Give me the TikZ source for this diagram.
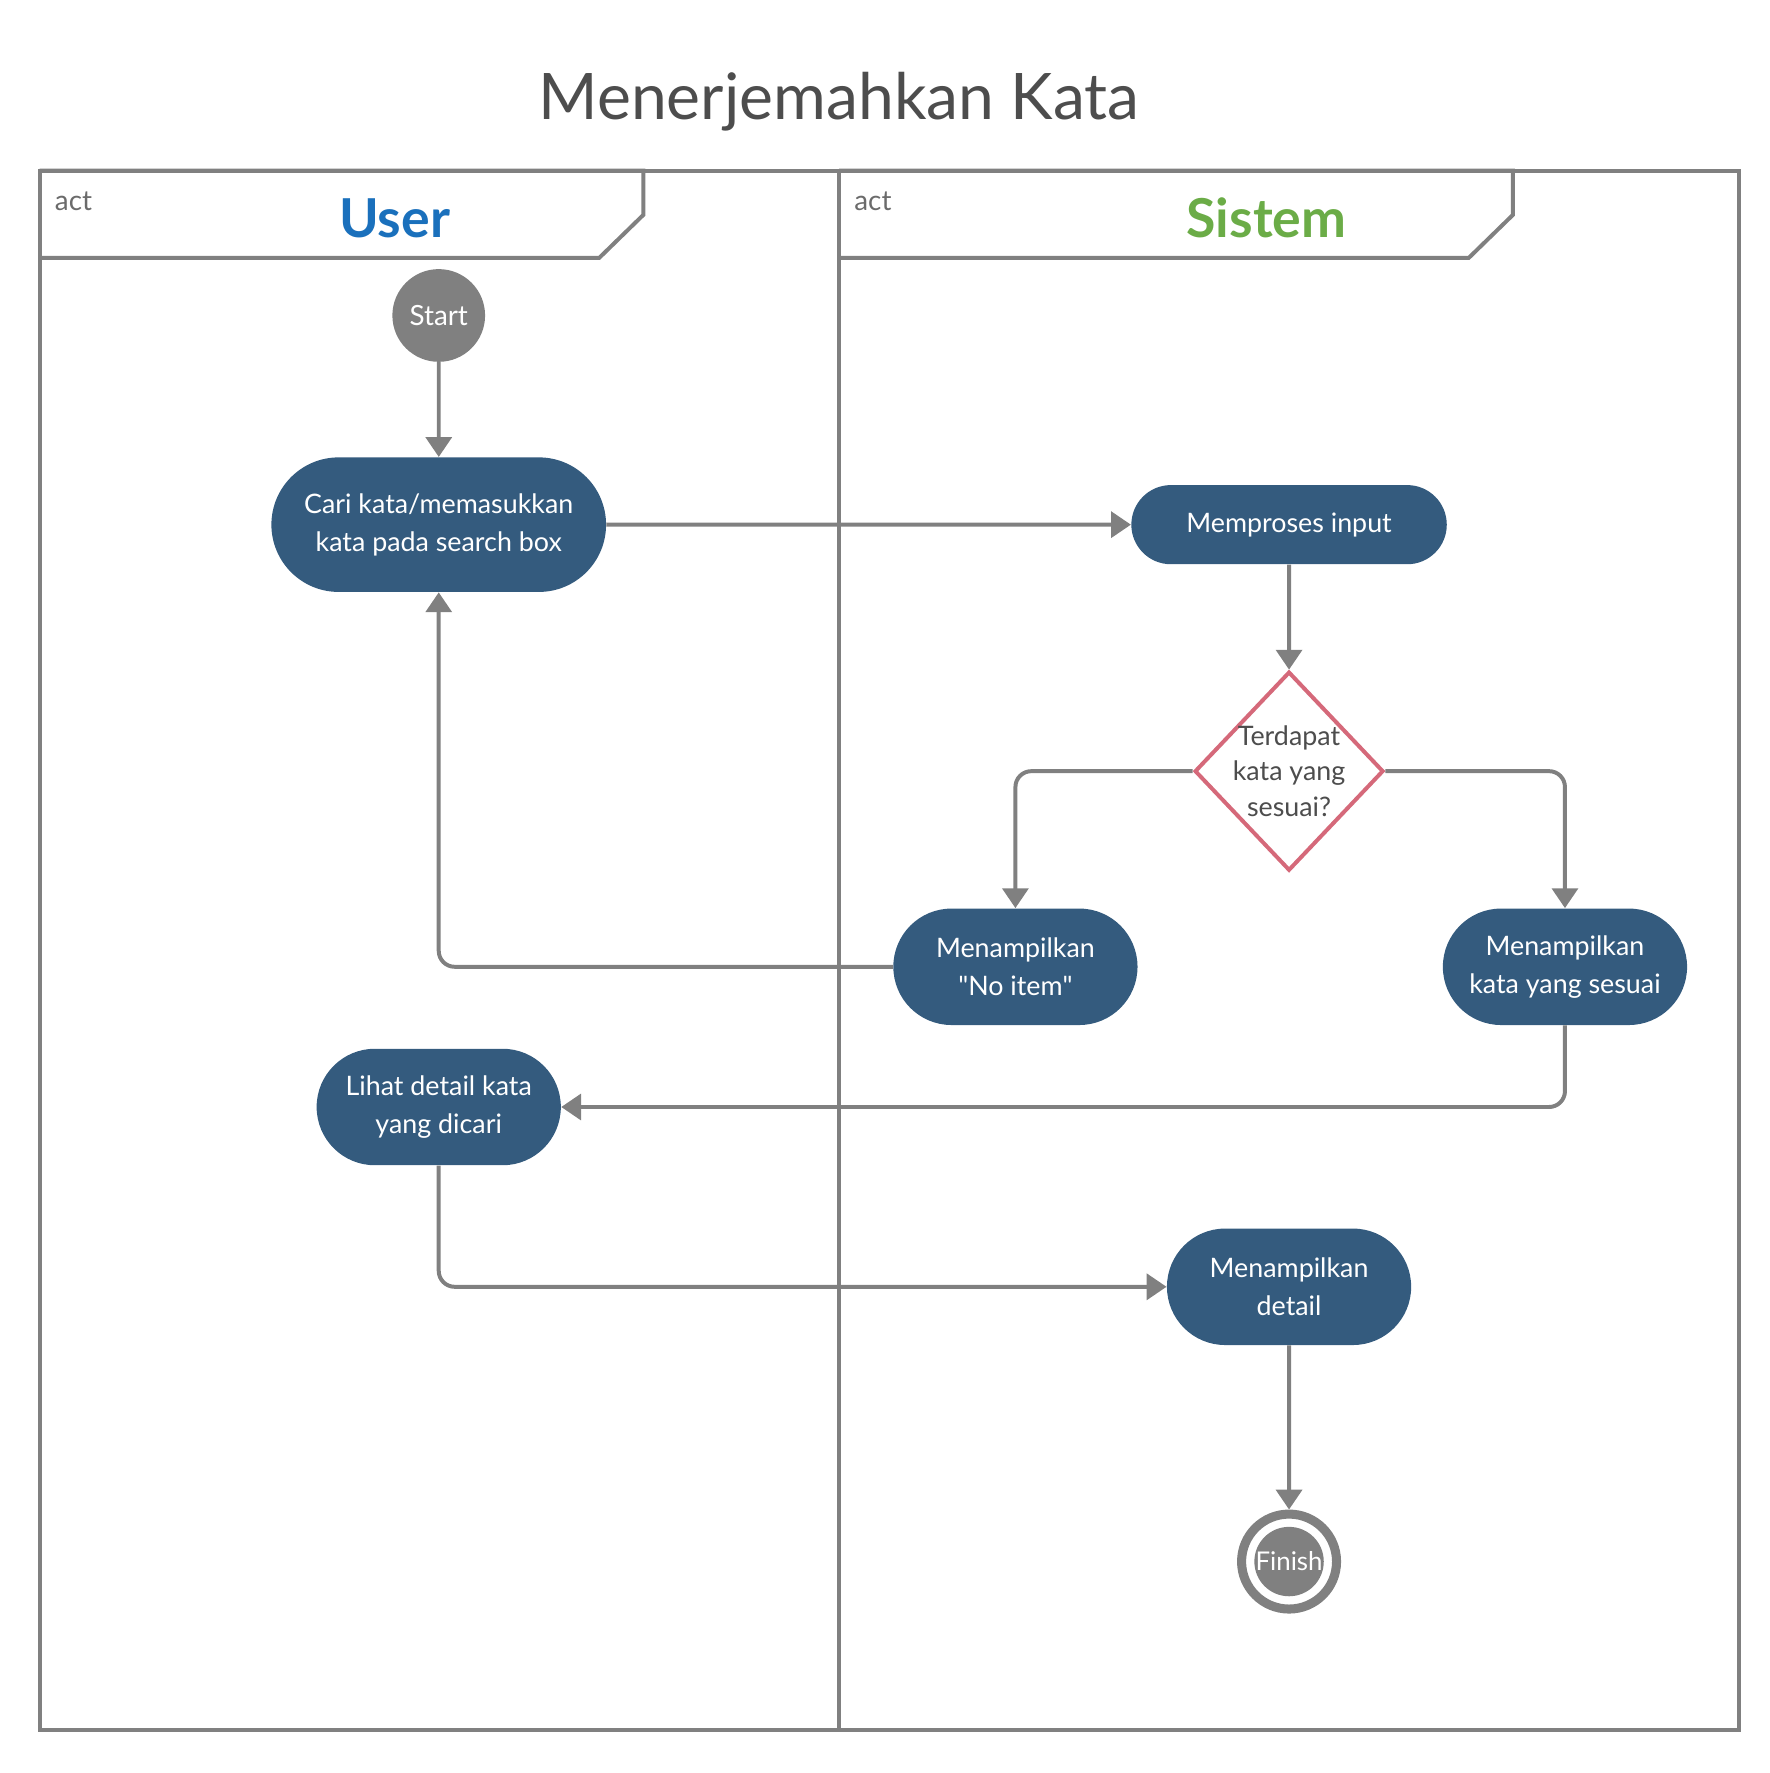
\documentclass[tikz,border=0pt]{standalone}
\usepackage{fontspec}
\setmainfont{Lato}
\newfontfamily\plainlato{Lato}
\usetikzlibrary{arrows.meta, positioning, shapes.geometric, shapes.misc}

\definecolor{LineGrey}{HTML}{808080}
\definecolor{ActBlue}{HTML}{345B7E}
\definecolor{DecRed}{HTML}{D5697A}
\definecolor{UserBlue}{HTML}{1A70BC}
\definecolor{SysGreen}{HTML}{6BAC47}
\definecolor{TextGrey}{HTML}{4D4D4D}
\definecolor{ActGrey}{HTML}{6B6B6B}

\begin{document}
\begin{tikzpicture}[
  lane/.style={draw=LineGrey, line width=2pt},
  action/.style={rounded rectangle, fill=ActBlue, text=white, align=center, font=\fontsize{13.5}{19}\selectfont, minimum width=4.46cm, minimum height=2.06cm, inner sep=2pt},
  decision/.style={diamond, draw=DecRed, line width=2pt, fill=white, text=TextGrey, align=center, font=\fontsize{13.5}{18}\selectfont, minimum width=3.34cm, minimum height=3.52cm, inner sep=-0.3cm},
  initial/.style={circle, fill=LineGrey, text=white, font=\fontsize{14}{17}\selectfont, minimum size=1.64cm, inner sep=0pt},
  finring/.style={circle, draw=LineGrey, line width=0.16cm, fill=white, minimum size=1.68cm, inner sep=0pt},
  findot/.style={circle, fill=LineGrey, text=white, font=\fontsize{13}{16}\selectfont, minimum size=1.16cm, inner sep=0pt},
  flow/.style={draw=LineGrey, line width=2pt, rounded corners=8pt, -{Triangle[length=10pt, width=13pt]}},
  acttag/.style={font=\fontsize{14}{17}\selectfont, ActGrey},
  lanetitle/.style={font=\fontsize{27}{32}\selectfont\bfseries}
]
\useasboundingbox (0,0) rectangle (31.30,-31.36);

% Title
\node[font=\fontsize{32.3}{38}\selectfont, TextGrey] (title) at (14.84,-1.80) {Menerjemahkan Kata};

% Swimlanes
\draw[lane] (0.70,-3.02) rectangle (30.76,-30.60);
\draw[lane] (14.84,-3.02) -- (14.84,-30.60);
\draw[lane] (0.70,-3.02) -- (11.38,-3.02) -- (11.38,-3.80) -- (10.60,-4.56) -- (0.70,-4.56);
\draw[lane] (14.84,-3.02) -- (26.76,-3.02) -- (26.76,-3.80) -- (25.98,-4.56) -- (14.84,-4.56);
\node[acttag] (actuser) at (1.30,-3.56) {act};
\node[acttag] (actsys) at (15.44,-3.56) {act};
\node[lanetitle, UserBlue] (user) at (6.98,-3.86) {User};
\node[lanetitle, SysGreen] (sistem) at (22.40,-3.86) {Sistem};

% Activities
\node[initial] (start) at (7.76,-5.58) {Start};
\node[action, minimum width=6.06cm, minimum height=2.38cm] (cari) at (7.76,-9.28) {Cari kata/memasukkan\\kata pada search box};
\node[action, minimum width=5.72cm, minimum height=1.40cm] (proses) at (22.80,-9.28) {Memproses input};
\node[decision] (cek) at (22.80,-13.64) {Terdapat\\kata yang\\sesuai?};
\node[action] (noitem) at (17.96,-17.10) {Menampilkan\\{\plainlato"}No item{\plainlato"}};
\node[action] (sesuai) at (27.68,-17.10) {Menampilkan\\kata yang sesuai};
\node[action] (lihat) at (7.76,-19.58) {Lihat detail kata\\yang dicari};
\node[action] (detail) at (22.80,-22.76) {Menampilkan\\detail};
\node[finring] (fin) at (22.80,-27.62) {};
\node[findot] (findot) at (fin) {Finish};

% Connectors
\draw[flow] (start) -- (cari);
\draw[flow] (cari) -- (proses);
\draw[flow] (proses) -- (cek);
\draw[flow] (cek.west) -| (noitem.north);
\draw[flow] (cek.east) -| (sesuai.north);
\draw[flow] (noitem.west) -| (cari.south);
\draw[flow] (sesuai.south) |- (lihat.east);
\draw[flow] (lihat.south) |- (detail.west);
\draw[flow] (detail) -- (fin);

\end{tikzpicture}
\end{document}
